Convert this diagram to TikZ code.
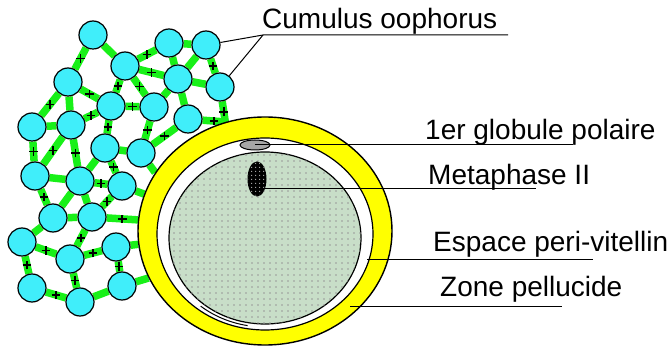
\documentclass[tikz,border=0pt]{standalone}
\usepackage{fontspec}
\setmainfont{Liberation Sans}
\usepackage{tikz}
\usetikzlibrary{shapes.geometric,shapes.misc,patterns.meta}
\pgfdeclarelayer{background}
\pgfsetlayers{background,main}
\definecolor{cumcyan}{RGB}{64,238,250}
\definecolor{bargreen}{RGB}{24,240,24}
\definecolor{zonayellow}{RGB}{255,255,0}
\definecolor{ooplasm}{RGB}{200,222,200}

\begin{document}
\begin{tikzpicture}[x=1pt, y=-1pt, line width=1pt]
	\tikzstyle{cell} = [circle, draw, fill=cumcyan, minimum size=28pt, inner sep=0pt, line width=1.2pt]
	\tikzstyle{bar} = [bargreen, line width=7.5pt]
	\tikzstyle{plus} = [cross out, draw=black, rotate=45, minimum size=4.5pt, inner sep=0pt, line width=1.6pt]
	\tikzstyle{lbl} = [anchor=base west, inner sep=0pt, font=\fontsize{28}{30}\selectfont]
	\tikzstyle{lead} = [black, line width=1pt]

	\useasboundingbox (0,0) rectangle (672,347);

	% zona, perivitelline space and oocyte
	\node[ellipse, draw, line width=1.4pt, fill=zonayellow, minimum width=254pt, minimum height=228pt, inner sep=0pt] (zona) at (265,231) {};
	\node[ellipse, draw, line width=1.2pt, fill=white, minimum width=216pt, minimum height=192pt, inner sep=0pt] (zin) at (265,234) {};
	\node[ellipse, draw, line width=1.2pt, fill=ooplasm, minimum width=192pt, minimum height=172pt, inner sep=0pt,
		postaction={pattern={Dots[distance=6pt, radius=0.8pt]}, pattern color=gray!80}] (oo) at (265,238) {};
	\coordinate (vm-a) at (247.6,325.6);
	\draw[line width=1pt] (vm-a) arc[start angle=100, end angle=130, x radius=100, y radius=89];
	\node[ellipse, draw, fill=gray!70, minimum width=30pt, minimum height=10pt, inner sep=0pt] (pb) at (255,145) {};
	\node[ellipse, draw, fill=black, minimum width=18pt, minimum height=34pt, inner sep=0pt,
		postaction={pattern={Dots[distance=4pt, radius=0.8pt]}, pattern color=gray!60}] (mii) at (257,179) {};

	% cumulus cells
	\path
	node[cell] (k1) at (93,35) {}
	node[cell] (k2) at (169,43) {}
	node[cell] (k3) at (206,45) {}
	node[cell] (k4) at (125,66) {}
	node[cell] (k5) at (68,82) {}
	node[cell] (k6) at (178,79) {}
	node[cell] (k7) at (220,87) {}
	node[cell] (k8) at (111,106) {}
	node[cell] (k9) at (154,107) {}
	node[cell] (k10) at (32,127) {}
	node[cell] (k11) at (71,125) {}
	node[cell] (k12) at (188,119) {}
	node[cell] (k13) at (105,148) {}
	node[cell] (k14) at (141,153) {}
	node[cell] (k15) at (35,176) {}
	node[cell] (k16) at (80,181) {}
	node[cell] (k17) at (122,186) {}
	node[cell] (k18) at (53,218) {}
	node[cell] (k19) at (92,217) {}
	node[cell] (k20) at (22,242) {}
	node[cell] (k21) at (70,259) {}
	node[cell] (k22) at (116,247) {}
	node[cell] (k23) at (32,288) {}
	node[cell] (k24) at (80,302) {}
	node[cell] (k25) at (122,286) {};
	\coordinate (jn) at (zona.110);

	\begin{pgfonlayer}{background}
	\path[bar]
	(k1) edge node[plus] {} (k5)
	(k1) edge (k4)
	(k2) edge node[plus] {} (k4)
	(k2) edge (k3)
	(k2) edge (k6)
	(k3) edge (k6)
	(k3) edge node[plus] {} (k7)
	(k4) edge node[plus] {} (k6)
	(k4) edge node[plus] {} (k8)
	(k4) edge node[plus] {} (k9)
	(k5) edge node[plus] {} (k8)
	(k5) edge node[plus] {} (k10)
	(k5) edge (k11)
	(k6) edge (k9)
	(k6) edge (k7)
	(k6) edge (k12)
	(k12) edge node[plus] {} (jn)
	(k7) edge node[plus] {} (jn)
	(k8) edge node[plus] {} (k9)
	(k8) edge node[plus] {} (k11)
	(k8) edge node[plus] {} (k13)
	(k9) edge node[plus] {} (k14)
	(k14) edge node[plus] {} (k12)
	(k10) edge (k11)
	(k10) edge node[plus] {} (k15)
	(k11) edge node[plus] {} (k15)
	(k11) edge node[plus] {} (k16)
	(k13) edge (k14)
	(k13) edge (k16)
	(k13) edge node[plus] {} (k17)
	(k14) edge (zona.152)
	(k15) edge (k16)
	(k16) edge node[plus] {} (k17)
	(k17) edge (zona.163)
	(k15) edge node[plus] {} (k18)
	(k16) edge (k18)
	(k16) edge (k19)
	(k17) edge node[plus] {} (k19)
	(k19) edge node[plus] {} (zona.175)
	(k18) edge (k19)
	(k18) edge (k20)
	(k19) edge node[plus] {} (k21)
	(k20) edge node[plus] {} (k21)
	(k21) edge node[plus] {} (k22)
	(k22) edge (zona.186)
	(k20) edge node[plus] {} (k23)
	(k21) edge node[plus] {} (k24)
	(k22) edge node[plus] {} (k25)
	(k23) edge node[plus] {} (k24)
	(k24) edge (k25)
	(k25) edge (zona.202)
	;
	\end{pgfonlayer}

	% labels
	\node[lbl] (cum) at (262,29) {Cumulus oophorus};
	\node[lbl] (glob) at (425,140) {1er globule polaire};
	\node[lbl] (meta) at (428,185) {Metaphase II};
	\node[lbl] (espace) at (433,252) {Espace peri-vitellin};
	\node[lbl] (zone) at (440,297) {Zone pellucide};

	\coordinate (cum-a) at (263,35);
	\coordinate (cum-b) at (508,35);
	\coordinate (pb-end) at (573,145);
	\coordinate (mii-end) at (536,189);
	\coordinate (pvs) at (367,260);
	\coordinate (pvs-end) at (593,260);
	\coordinate (zp) at (350,307);
	\coordinate (zp-end) at (562,307);

	\draw[lead] (k3) -- (cum-a) -- (cum-b);
	\draw[lead] (k7) -- (cum-a);
	\draw[lead] (pb.center) -- (pb-end);
	\draw[lead] (mii.center |- mii-end) -- (mii-end);
	\draw[lead] (pvs) -- (pvs-end);
	\draw[lead] (zp) -- (zp-end);
\end{tikzpicture}
\end{document}
